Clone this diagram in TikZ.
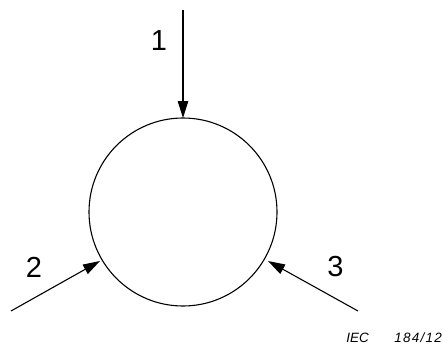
\documentclass[tikz,border=0pt]{standalone}
\usepackage{fontspec}
\setmainfont{Liberation Sans}
\usetikzlibrary{arrows.meta}
\begin{document}
\begin{tikzpicture}[x=1pt,y=-1pt,
  conn/.style={line width=1.1pt,-{Triangle[length=17pt,width=10.5pt]}},
  lbl/.style={font=\fontsize{29}{33}\selectfont,inner sep=0pt}]
\useasboundingbox (0,0) rectangle (443,345);
\node[circle,draw,line width=1.1pt,minimum size=188pt,inner sep=0pt] (c) at (183,212) {};
\coordinate (s1) at (183,10);
\coordinate (s2) at (11,311);
\coordinate (s3) at (358,311);
\coordinate (e1) at (183,118);
\coordinate (e2) at (100,261);
\coordinate (e3) at (268,261);
\draw[conn] (s1) -- (e1);
\draw[conn] (s2) -- (e2);
\draw[conn] (s3) -- (e3);
\node[lbl] (l1) at (159,40.5) {1};
\node[lbl] (l2) at (34,267) {2};
\node[lbl] (l3) at (335.5,267) {3};
\node[font=\itshape\fontsize{13.5}{16}\selectfont,anchor=east,inner sep=0pt] (iec) at (442,337.7) {IEC\hspace{1.9em}{\addfontfeature{LetterSpace=9}184/12}};
\end{tikzpicture}
\end{document}
